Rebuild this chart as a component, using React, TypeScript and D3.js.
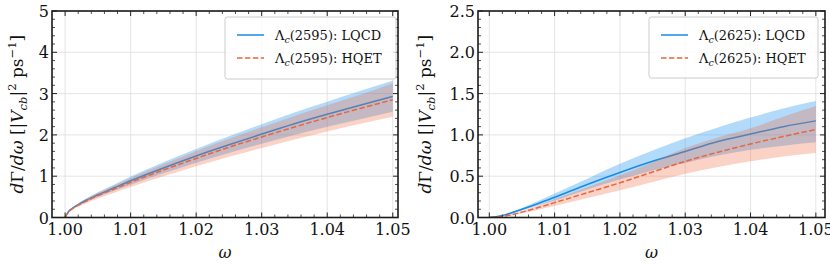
import React from "react";
import * as d3 from "d3";

// Λc(2595) panel
const omega2595 = [1.0, 1.0005, 1.001, 1.002, 1.003, 1.005, 1.0075, 1.01, 1.015, 1.02, 1.025, 1.03, 1.035, 1.04, 1.045, 1.05];
const lqcd2595 = [0, 0.14, 0.21, 0.31, 0.4, 0.55, 0.72, 0.89, 1.2, 1.49, 1.76, 2.02, 2.27, 2.5, 2.72, 2.93];
const lqcd2595Lo = [0, 0.125, 0.19, 0.28, 0.36, 0.495, 0.645, 0.795, 1.07, 1.325, 1.56, 1.785, 2.0, 2.195, 2.38, 2.56];
const lqcd2595Hi = [0, 0.155, 0.23, 0.34, 0.44, 0.61, 0.8, 0.99, 1.335, 1.66, 1.965, 2.26, 2.54, 2.8, 3.06, 3.31];
const hqet2595 = [0, 0.13, 0.2, 0.3, 0.38, 0.53, 0.69, 0.85, 1.15, 1.43, 1.7, 1.95, 2.19, 2.42, 2.64, 2.85];
const hqet2595Lo = [0, 0.11, 0.175, 0.26, 0.33, 0.46, 0.6, 0.74, 1.0, 1.24, 1.47, 1.685, 1.89, 2.085, 2.27, 2.44];
const hqet2595Hi = [0, 0.15, 0.225, 0.335, 0.43, 0.595, 0.775, 0.955, 1.29, 1.605, 1.905, 2.185, 2.46, 2.72, 2.97, 3.25];

// Λc(2625) panel
const omega2625 = [1.0, 1.0025, 1.005, 1.0075, 1.01, 1.015, 1.02, 1.025, 1.03, 1.035, 1.04, 1.045, 1.05];
const lqcd2625 = [0, 0.035, 0.1, 0.17, 0.245, 0.4, 0.545, 0.68, 0.8, 0.92, 1.01, 1.1, 1.17];
const lqcd2625Lo = [0, 0.03, 0.085, 0.145, 0.205, 0.34, 0.46, 0.57, 0.66, 0.75, 0.82, 0.87, 0.91];
const lqcd2625Hi = [0, 0.04, 0.115, 0.2, 0.29, 0.47, 0.65, 0.81, 0.96, 1.09, 1.21, 1.32, 1.41];
const hqet2625 = [0, 0.02, 0.065, 0.12, 0.18, 0.3, 0.42, 0.55, 0.68, 0.79, 0.89, 0.98, 1.065];
const hqet2625Lo = [0, 0.015, 0.05, 0.095, 0.14, 0.235, 0.33, 0.43, 0.53, 0.61, 0.68, 0.74, 0.78];
const hqet2625Hi = [0, 0.025, 0.08, 0.145, 0.22, 0.365, 0.51, 0.67, 0.84, 0.97, 1.08, 1.22, 1.35];

const xTicks = [1.0, 1.01, 1.02, 1.03, 1.04, 1.05];
const yTicks2595 = [0, 1, 2, 3, 4, 5];
const yTicks2625 = [0, 0.5, 1.0, 1.5, 2.0, 2.5];

const BLUE = "#168ce6";
const ORANGE = "#e8653e";
const FONT = "'DejaVu Serif', serif";

type Pt = { x: number; y: number; lo: number; hi: number };

function zip(xs: number[], ys: number[], lo: number[], hi: number[]): Pt[] {
  return xs.map((x, i) => ({ x, y: ys[i], lo: lo[i], hi: hi[i] }));
}

function Panel(props: {
  left: number; right: number; top: number; bottom: number;
  xDomain: [number, number]; yMax: number; yTicks: number[]; yMinor: number;
  yFmt: (v: number) => string; state: string;
  lqcd: Pt[]; hqet: Pt[];
  ylabelX: number; legend: [number, number, number, number];
}) {
  const { left, right, top, bottom, xDomain, yMax, yTicks, yMinor, yFmt, state, lqcd, hqet, ylabelX, legend } = props;
  const x = d3.scaleLinear().domain(xDomain).range([left, right]);
  const y = d3.scaleLinear().domain([0, yMax]).range([bottom, top]);

  const line = d3.line<Pt>().x(d => x(d.x)).y(d => y(d.y)).curve(d3.curveMonotoneX);
  const area = d3.area<Pt>().x(d => x(d.x)).y0(d => y(d.lo)).y1(d => y(d.hi)).curve(d3.curveMonotoneX);

  const xMinor = d3.range(1.0, 1.0501, 0.002).filter(v => Math.abs(v * 100 - Math.round(v * 100)) > 1e-6);
  const yMinorTicks = d3.range(0, yMax + 1e-9, yMinor).filter(v => !yTicks.some(t => Math.abs(t - v) < 1e-9));

  const [lx, ly, lw, lh] = legend;
  const cy = (top + bottom) / 2;

  return (
    <g>
      <defs>
        <clipPath id={"clip" + state}>
          <rect x={left} y={top} width={right - left} height={bottom - top} />
        </clipPath>
      </defs>
      {/* grid */}
      {xTicks.map(t => (
        <line key={"gx" + t} x1={x(t)} x2={x(t)} y1={top} y2={bottom} stroke="#dedede" strokeWidth={0.8} />
      ))}
      {yTicks.map(t => (
        <line key={"gy" + t} x1={left} x2={right} y1={y(t)} y2={y(t)} stroke="#dedede" strokeWidth={0.8} />
      ))}
      <g clipPath={`url(#clip${state})`}>
        <path d={area(lqcd) || ""} fill="#2196f3" fillOpacity={0.35} />
        <path d={line(lqcd) || ""} fill="none" stroke={BLUE} strokeWidth={1.5} />
        <path d={area(hqet) || ""} fill="#f06a43" fillOpacity={0.3} />
        <path d={line(hqet) || ""} fill="none" stroke={ORANGE} strokeWidth={1.5} strokeDasharray="5.5,2.4" />
      </g>
      {/* ticks */}
      {xTicks.map(t => (
        <g key={"tx" + t}>
          <line x1={x(t)} x2={x(t)} y1={bottom} y2={bottom - 5} stroke="#222" strokeWidth={1} />
          <line x1={x(t)} x2={x(t)} y1={top} y2={top + 5} stroke="#222" strokeWidth={1} />
          <text x={x(t)} y={bottom + 17} textAnchor="middle" fontFamily={FONT} fontSize={16} fill="#111">
            {t.toFixed(2)}
          </text>
        </g>
      ))}
      {xMinor.map(t => (
        <g key={"mx" + t}>
          <line x1={x(t)} x2={x(t)} y1={bottom} y2={bottom - 3} stroke="#222" strokeWidth={0.8} />
          <line x1={x(t)} x2={x(t)} y1={top} y2={top + 3} stroke="#222" strokeWidth={0.8} />
        </g>
      ))}
      {yTicks.map(t => (
        <g key={"ty" + t}>
          <line x1={left} x2={left + 5} y1={y(t)} y2={y(t)} stroke="#222" strokeWidth={1} />
          <line x1={right} x2={right - 5} y1={y(t)} y2={y(t)} stroke="#222" strokeWidth={1} />
          <text x={left - 3} y={y(t) + 6} textAnchor="end" fontFamily={FONT} fontSize={16} fill="#111">
            {yFmt(t)}
          </text>
        </g>
      ))}
      {yMinorTicks.map(t => (
        <g key={"my" + t}>
          <line x1={left} x2={left + 3} y1={y(t)} y2={y(t)} stroke="#222" strokeWidth={0.8} />
          <line x1={right} x2={right - 3} y1={y(t)} y2={y(t)} stroke="#222" strokeWidth={0.8} />
        </g>
      ))}
      <rect x={left} y={top} width={right - left} height={bottom - top} fill="none" stroke="#1a1a1a" strokeWidth={1.6} />
      {/* legend */}
      <rect x={lx} y={ly} width={lw} height={lh} rx={2.5} fill="#ffffff" fillOpacity={0.8} stroke="#cccccc" strokeWidth={1} />
      <line x1={lx + 12} x2={lx + 39} y1={ly + 18} y2={ly + 18} stroke={BLUE} strokeWidth={1.5} />
      <line x1={lx + 12} x2={lx + 39} y1={ly + 41} y2={ly + 41} stroke={ORANGE} strokeWidth={1.5} strokeDasharray="5.5,2.4" />
      {["LQCD", "HQET"].map((name, i) => (
        <text key={name} x={lx + 50} y={ly + 23 + i * 23} fontFamily={FONT} fontSize={13} fill="#111">
          Λ<tspan fontStyle="italic" fontSize={9.5} dy={3}>c</tspan>
          <tspan dy={-3}>({state}): {name}</tspan>
        </text>
      ))}
      {/* axis labels */}
      <text x={(left + right) / 2} y={258} textAnchor="middle" fontFamily={FONT} fontSize={16} fontStyle="italic" fill="#111">
        ω
      </text>
      <text transform={`translate(${ylabelX},${cy}) rotate(-90)`} textAnchor="middle" fontFamily={FONT} fontSize={17} fill="#111">
        <tspan fontStyle="italic">d</tspan>Γ/<tspan fontStyle="italic">dω</tspan> [|<tspan fontStyle="italic">V</tspan>
        <tspan fontStyle="italic" fontSize={11.5} dy={4}>cb</tspan>
        <tspan dy={-4}>|</tspan>
        <tspan fontSize={11.5} dy={-7}>2</tspan>
        <tspan dy={7}> ps</tspan>
        <tspan fontSize={11.5} dy={-7}>−1</tspan>
        <tspan dy={7}>]</tspan>
      </text>
    </g>
  );
}

export default function App() {
  const l2595 = zip(omega2595, lqcd2595, lqcd2595Lo, lqcd2595Hi);
  const h2595 = zip(omega2595, hqet2595, hqet2595Lo, hqet2595Hi);
  const l2625 = zip(omega2625, lqcd2625, lqcd2625Lo, lqcd2625Hi);
  const h2625 = zip(omega2625, hqet2625, hqet2625Lo, hqet2625Hi);
  return (
    <svg width={830} height={269} style={{ position: "absolute", left: 0, top: 0, background: "#fff" }}>
      <Panel left={52} right={398} top={11} bottom={217.5} xDomain={[0.998, 1.0508]} yMax={5}
        yTicks={yTicks2595} yMinor={0.2} yFmt={v => String(v)} state="2595"
        lqcd={l2595} hqet={h2595} ylabelX={23} legend={[225, 17, 171, 62]} />
      <Panel left={478} right={825} top={11} bottom={217.5} xDomain={[0.99827, 1.0514]} yMax={2.5}
        yTicks={yTicks2625} yMinor={0.1} yFmt={v => v.toFixed(1)} state="2625"
        lqcd={l2625} hqet={h2625} ylabelX={431} legend={[649, 17, 169, 61]} />
    </svg>
  );
}
